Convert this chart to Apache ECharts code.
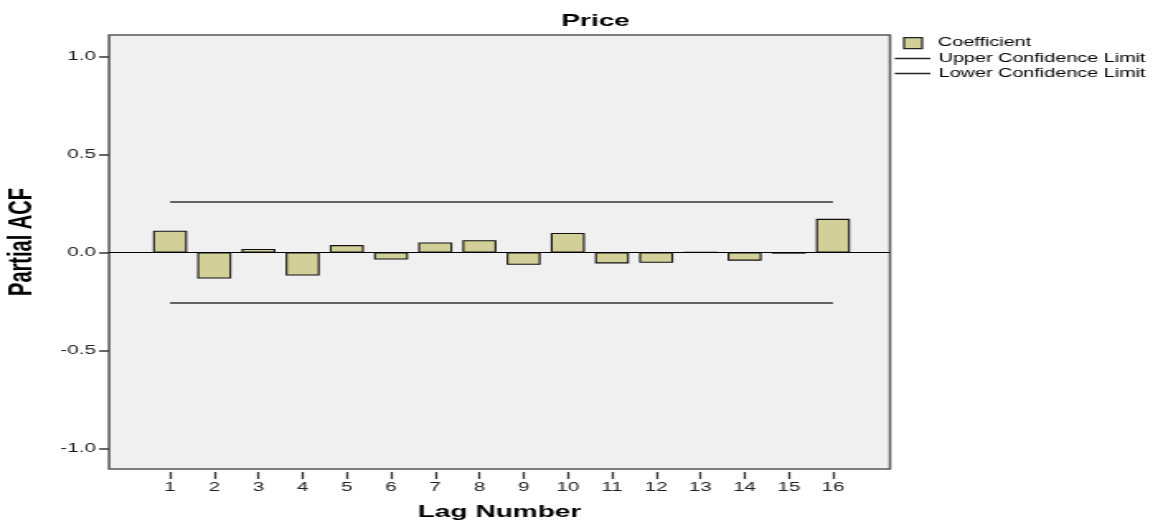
<!DOCTYPE html>
<html>
<head>
<meta charset="utf-8">
<style>
  html, body { margin: 0; padding: 0; background: #ffffff; overflow: hidden; }
  #wrap { width: 1163px; height: 521px; overflow: hidden; }
  /* the chart is laid out at a narrower width and widened horizontally,
     which gives the broad, stretched lettering of the SPSS export */
  #chart { width: 705px; height: 521px; transform: scaleX(1.6496); transform-origin: 0 0; }
</style>
<script src="https://cdn.jsdelivr.net/npm/echarts@6/dist/echarts.min.js"></script>
</head>
<body>
<div id="wrap"><div id="chart"></div></div>
<script>
// Lag numbers on the horizontal axis
var lags = [1, 2, 3, 4, 5, 6, 7, 8, 9, 10, 11, 12, 13, 14, 15, 16];
// Partial autocorrelation coefficient at each lag
var coefficients = [0.111, -0.133, 0.018, -0.118, 0.038, -0.036, 0.051, 0.063,
                    -0.063, 0.100, -0.056, -0.053, 0.003, -0.042, -0.006, 0.172];
// Confidence limits at each lag
var upperLimit = [0.258, 0.258, 0.258, 0.258, 0.258, 0.258, 0.258, 0.258,
                  0.258, 0.258, 0.258, 0.258, 0.258, 0.258, 0.258, 0.258];
var lowerLimit = [-0.258, -0.258, -0.258, -0.258, -0.258, -0.258, -0.258, -0.258,
                  -0.258, -0.258, -0.258, -0.258, -0.258, -0.258, -0.258, -0.258];
// Value-axis tick labels
var yTicks = [-1.0, -0.5, 0.0, 0.5, 1.0];

var pair = function (vals) { return lags.map(function (l, i) { return [l, vals[i]]; }); };

var chart = echarts.init(document.getElementById('chart'), null, { renderer: 'canvas' });
var baseFont = 'Liberation Sans, Arial, sans-serif';

chart.setOption({
  animation: false,
  backgroundColor: '#ffffff',
  title: {
    text: 'Price',
    left: 356, top: 8, textAlign: 'center',
    textStyle: { fontFamily: baseFont, fontSize: 17, fontWeight: 'bold', color: '#000' }
  },
  legend: [
    {
      data: [{ name: 'Coefficient', icon: 'rect' }],
      left: 547.4, top: 37, padding: 0,
      itemWidth: 11, itemHeight: 11,
      itemStyle: { borderColor: '#222', borderWidth: 1.2 },
      textStyle: { fontFamily: baseFont, fontSize: 12, color: '#000', padding: [0, 0, 0, 4.6] }
    },
    {
      data: [
        { name: 'Upper Confidence Limit', icon: 'rect' },
        { name: 'Lower Confidence Limit', icon: 'rect' }
      ],
      orient: 'vertical',
      left: 542.4, top: 51, padding: 0,
      itemWidth: 21.6, itemHeight: 1.5, itemGap: 0,
      itemStyle: { color: '#222', borderWidth: 0 },
      textStyle: { fontFamily: baseFont, fontSize: 12, color: '#000', lineHeight: 15 }
    }
  ],
  grid: {
    left: 66.1, right: 165.5, top: 35, bottom: 52,
    outerBoundsMode: 'none',
    show: true, backgroundColor: '#f0f0f0',
    borderColor: '#555', borderWidth: 1.5
  },
  xAxis: {
    type: 'value',
    min: -0.38, max: 17.29,
    name: 'Lag Number', nameLocation: 'middle', nameGap: 32,
    nameTextStyle: { fontFamily: baseFont, fontSize: 17, fontWeight: 'bold', color: '#000' },
    offset: 3,
    axisLine: { show: false, onZero: false },
    splitLine: { show: false },
    axisTick: { show: true, length: 7, customValues: lags, lineStyle: { color: '#333', width: 1.3 } },
    axisLabel: { customValues: lags, margin: 9, fontFamily: baseFont, fontSize: 12.5, color: '#222' }
  },
  yAxis: {
    type: 'value',
    min: -1.105, max: 1.11,
    name: 'Partial ACF', nameLocation: 'middle', nameGap: 43, nameRotate: 90,
    nameTextStyle: { fontFamily: baseFont, fontSize: 20, fontWeight: 'bold', color: '#000', padding: [0, 0, 0, 20] },
    axisLine: { show: false, onZero: false },
    splitLine: { show: false },
    axisTick: { show: true, length: 6, customValues: yTicks, lineStyle: { color: '#333', width: 1.5 } },
    axisLabel: {
      customValues: yTicks, margin: 8,
      fontFamily: baseFont, fontSize: 12.5, color: '#222',
      formatter: function (v) { return v.toFixed(1); }
    }
  },
  series: [
    {
      name: 'Coefficient',
      type: 'bar',
      data: pair(coefficients),
      barWidth: 20.6,
      itemStyle: { color: '#d3cf98', borderColor: '#111', borderWidth: 1.1 },
      markLine: {
        silent: true, symbol: 'none', label: { show: false },
        lineStyle: { color: '#000', width: 1.2, type: 'solid' },
        data: [{ yAxis: 0 }]
      },
      z: 3
    },
    {
      name: 'Upper Confidence Limit',
      type: 'line',
      data: pair(upperLimit),
      symbol: 'none',
      lineStyle: { color: '#333', width: 1.5 },
      itemStyle: { color: '#333' }
    },
    {
      name: 'Lower Confidence Limit',
      type: 'line',
      data: pair(lowerLimit),
      symbol: 'none',
      lineStyle: { color: '#333', width: 1.5 },
      itemStyle: { color: '#333' }
    }
  ]
});
</script>
</body>
</html>
